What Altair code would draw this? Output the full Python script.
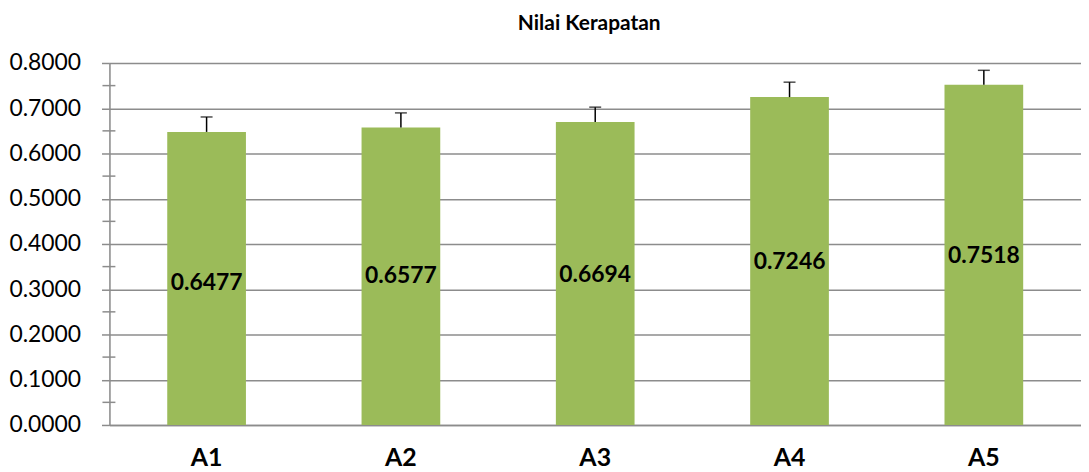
import altair as alt
import pandas as pd

categories = ["A1", "A2", "A3", "A4", "A5"]
values = [0.6477, 0.6577, 0.6694, 0.7246, 0.7518]
errors = [0.033, 0.032, 0.033, 0.033, 0.032]
label_pos = [0.314, 0.329, 0.332, 0.359, 0.374]
labels = ["0.6477", "0.6577", "0.6694", "0.7246", "0.7518"]
major_ticks = [0.0, 0.1, 0.2, 0.3, 0.4, 0.5, 0.6, 0.7, 0.8]
minor_ticks = [0.05, 0.15, 0.25, 0.35, 0.45, 0.55, 0.65, 0.75]

df = pd.DataFrame({
    "cat": categories,
    "val": values,
    "top": [v + e for v, e in zip(values, errors)],
    "lab": labels,
    "lpos": label_pos,
})
minor_df = pd.DataFrame({"m": minor_ticks})

FONT = "Lato"

x_enc = alt.X(
    "cat:N", sort=categories, title=None,
    scale=alt.Scale(paddingInner=0.595, paddingOuter=0.2975),
    axis=alt.Axis(labelAngle=0, labelFont=FONT, labelFontSize=25, labelFontWeight="bold",
                  labelColor="#000000", ticks=False, domainColor="#8c8c8c",
                  domainWidth=1.5, labelPadding=21),
)
y_scale = alt.Scale(domain=[0, 0.8], nice=False)
y_axis = alt.Axis(values=major_ticks, format=".4f", labelFont=FONT, labelFontSize=23,
                  labelColor="#000000", gridColor="#8c8c8c", gridWidth=1.5,
                  domainColor="#8c8c8c", domainWidth=1.5, tickColor="#8c8c8c",
                  tickWidth=1.5, tickSize=8, labelPadding=21, title=None)

bars = alt.Chart(df).mark_bar(color="#9BBB59").encode(
    x=x_enc,
    y=alt.Y("val:Q", scale=y_scale, axis=y_axis),
)
err = alt.Chart(df).mark_rule(color="#000000", strokeWidth=1.5).encode(
    x=alt.X("cat:N", sort=categories),
    y="val:Q", y2="top:Q",
)
caps = alt.Chart(df).mark_tick(color="#000000", thickness=1.5, size=12).encode(
    x=alt.X("cat:N", sort=categories),
    y="top:Q",
)
text = alt.Chart(df).mark_text(font=FONT, fontSize=23, fontWeight="bold",
                               color="#000000", baseline="middle").encode(
    x=alt.X("cat:N", sort=categories),
    y="lpos:Q",
    text="lab:N",
)
minor = alt.Chart(minor_df).mark_rule(color="#8c8c8c", strokeWidth=1.5).encode(
    y="m:Q",
    x=alt.value(-7),
    x2=alt.value(6),
)

chart = alt.layer(bars, err, caps, text, minor).properties(
    width=977,
    height=364,
    title=alt.TitleParams("Nilai Kerapatan", font=FONT, fontSize=21, fontWeight="bold",
                          color="#000000", anchor="middle", offset=18, dx=-6),
    autosize=alt.AutoSizeParams(type="none"),
    padding={"left": 102, "top": 54, "right": 0, "bottom": 46},
).configure_view(stroke=None).configure(background="white")

chart.save("out.html", embed_options={"renderer": "svg", "actions": False})
